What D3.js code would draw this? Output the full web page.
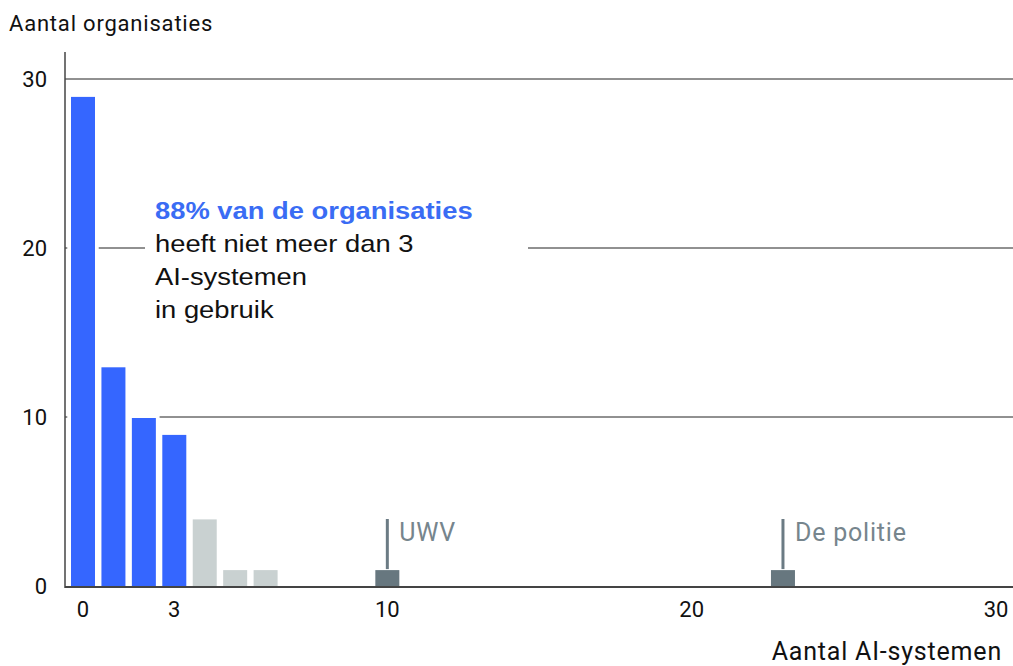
<!DOCTYPE html>
<meta charset="utf-8">
<style>
    body { margin: 0; background: #fff; }
    svg { display: block; }
    text { font-family: Roboto, "Liberation Sans", sans-serif; }
    text.note { font-family: "Liberation Sans", Arial, sans-serif; font-size: 24px; }
</style>
<body>
<script src="https://d3js.org/d3.v7.min.js"></script>
<script>
    // Number of AI systems per organisation (x) and count of organisations (y)
    var systems = [0, 1, 2, 3, 4, 5, 6, 10, 23];
    var counts = [29, 13, 10, 9, 4, 1, 1, 1, 1];
    var groups = ["low", "low", "low", "low", "mid", "mid", "mid", "named", "named"];
    var xTicks = [0, 3, 10, 20, 30];
    var yTicks = [0, 10, 20, 30];
    var named = [{ x: 10, label: "UWV" }, { x: 23, label: "De politie" }];
    var noteLines = ["88% van de organisaties", "heeft niet meer dan 3", "AI-systemen", "in gebruik"];

    var colors = { low: "#3566ff", mid: "#c9d1d1", named: "#67777f" };

    var width = 1013, height = 666;
    var svg = d3.select("body").append("svg")
        .attr("width", width)
        .attr("height", height);

    var x = d3.scaleLinear().domain([0, 30]).range([83, 996]);
    var y = d3.scaleLinear().domain([0, 30]).range([586, 79]);
    var barW = 24;
    var step = x(1) - x(0);

    // Axis titles
    svg.append("text")
        .attr("x", 9).attr("y", 31)
        .attr("font-size", 22).attr("letter-spacing", 0.8).attr("fill", "#111")
        .text("Aantal organisaties");
    svg.append("text")
        .attr("x", 1002).attr("y", 660)
        .attr("text-anchor", "end")
        .attr("font-size", 25).attr("letter-spacing", 0.8).attr("fill", "#111")
        .text("Aantal AI-systemen");

    // Gridlines
    svg.append("g").selectAll("line")
        .data(yTicks.filter(function (d) { return d > 0; }))
        .enter().append("line")
        .attr("x1", 65).attr("x2", width)
        .attr("y1", function (d) { return y(d); })
        .attr("y2", function (d) { return y(d); })
        .attr("stroke", "#222").attr("stroke-width", 1);

    // Y tick labels
    svg.append("g").selectAll("text")
        .data(yTicks)
        .enter().append("text")
        .attr("x", 47)
        .attr("y", function (d) { return y(d) + 8; })
        .attr("text-anchor", "end")
        .attr("font-size", 22).attr("fill", "#111")
        .text(function (d) { return d; });

    // X tick labels
    svg.append("g").selectAll("text")
        .data(xTicks)
        .enter().append("text")
        .attr("x", function (d) { return x(d); })
        .attr("y", 617)
        .attr("text-anchor", "middle")
        .attr("font-size", 22).attr("fill", "#111")
        .text(function (d) { return d; });

    // White columns hide gridlines behind bars
    svg.append("g").selectAll("rect")
        .data(systems)
        .enter().append("rect")
        .attr("x", function (d) { return x(d) - step / 2 - 0.5; })
        .attr("y", function (d, i) { return y(counts[i]) - 3; })
        .attr("width", step + 1)
        .attr("height", function (d, i) { return y(0) - y(counts[i]) + 3; })
        .attr("fill", "#fff");

    // Baseline and left axis
    svg.append("line")
        .attr("x1", 65).attr("x2", width)
        .attr("y1", y(0) + 1).attr("y2", y(0) + 1)
        .attr("stroke", "#444").attr("stroke-width", 2);
    svg.append("line")
        .attr("x1", 65).attr("x2", 65)
        .attr("y1", 52).attr("y2", y(0) + 2)
        .attr("stroke", "#444").attr("stroke-width", 1.5);

    // Bars
    svg.append("g").selectAll("rect")
        .data(systems)
        .enter().append("rect")
        .attr("x", function (d) { return x(d) - barW / 2; })
        .attr("y", function (d, i) { return y(counts[i]) + 1; })
        .attr("width", barW)
        .attr("height", function (d, i) { return y(0) - y(counts[i]) - 1; })
        .attr("fill", function (d, i) { return colors[groups[i]]; });

    // Labels for named organisations
    var tag = svg.append("g").selectAll("g")
        .data(named)
        .enter().append("g");
    tag.append("line")
        .attr("x1", function (d) { return x(d.x); })
        .attr("x2", function (d) { return x(d.x); })
        .attr("y1", 519).attr("y2", y(1))
        .attr("stroke", "#6b7b84").attr("stroke-width", 3);
    tag.append("text")
        .attr("x", function (d) { return x(d.x) + 12; })
        .attr("y", 541)
        .attr("font-size", 25).attr("letter-spacing", 0.8).attr("fill", "#76858d")
        .text(function (d) { return d.label; });

    // Annotation with white backing over gridline
    svg.append("rect")
        .attr("x", 145).attr("y", 190)
        .attr("width", 383).attr("height", 135)
        .attr("fill", "#fff");
    svg.append("g")
        .attr("transform", "translate(155,0) scale(1.14,1)")
        .selectAll("text")
        .data(noteLines)
        .enter().append("text")
        .attr("class", "note")
        .attr("x", 0)
        .attr("y", function (d, i) { return 219 + i * 33; })
        .attr("font-weight", function (d, i) { return i === 0 ? "bold" : "normal"; })
        .attr("fill", function (d, i) { return i === 0 ? "#3a6cf4" : "#111"; })
        .text(function (d) { return d; });
</script>
</body>
